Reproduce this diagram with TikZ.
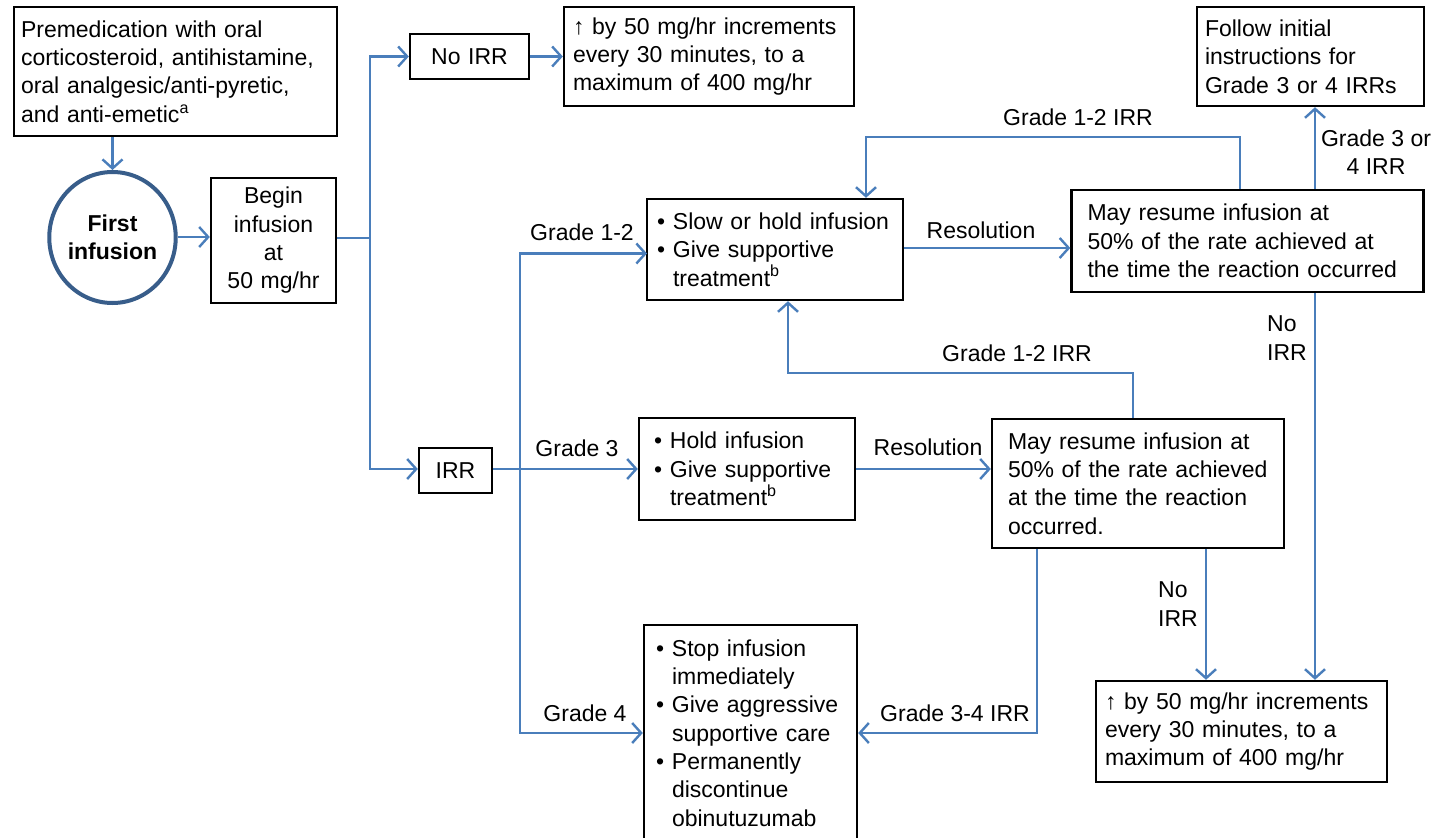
\documentclass[tikz,border=0pt]{standalone}
\usepackage{fontspec}
\setmainfont{Liberation Sans}
\usetikzlibrary{arrows.meta,shapes.geometric}
\definecolor{lineblue}{HTML}{4A7EBB}
\definecolor{circblue}{HTML}{385D8A}
\newcommand\fs{\fontsize{23}{28.3}\selectfont\hyphenpenalty=10000\exhyphenpenalty=10000}
\newcommand\bul{\makebox[16pt][l]{•}}
\newcommand\ind{\hspace*{16pt}}
\begin{document}
\begin{tikzpicture}[x=1pt,y=-1pt,
  box/.style={draw=black, line width=2.4pt, fill=white, inner ysep=2pt, align=left, font=\fs},
  cbox/.style={box, align=center},
  lab/.style={font=\fs, inner sep=0pt, align=center},
  conn/.style={draw=lineblue, line width=2.4pt},
  arr/.style={conn, -{Straight Barb[length=9pt,width=20pt]}}]
\useasboundingbox (0,0) rectangle (1438,838);
\fill[white] (0,0) rectangle (1438,838);

% nodes
\node[box, minimum width=323pt, minimum height=129pt, inner xsep=7pt, text width=309pt] (premed) at (175.5,71.5)
 {Premedication with oral\\corticosteroid, antihistamine,\\oral analgesic/anti-pyretic,\\and anti-emetic\textsuperscript{a}};
\node[ellipse, draw=circblue, line width=4pt, fill=white, minimum width=117pt, minimum height=131pt, font=\fs\bfseries, align=center, inner sep=0pt] (circ) at (112.5,237.5) {First\\infusion};
\node[cbox, minimum width=125pt, minimum height=125pt, inner xsep=7pt, text width=111pt] (begin) at (273.5,240.5) {Begin\\infusion\\at\\50 mg/hr};
\node[cbox, minimum width=119pt, minimum height=45pt, inner xsep=5pt, text width=109pt] (noirr) at (469.5,56.5) {No IRR};
\node[box, minimum width=290pt, minimum height=99pt, inner xsep=9pt, text width=272pt] (incr1) at (709,56.5)
 {↑ by 50 mg/hr increments\\every 30 minutes, to a\\maximum of 400 mg/hr};
\node[box, minimum width=227pt, minimum height=99pt, inner xsep=8pt, text width=211pt] (follow) at (1310.5,56.5)
 {Follow initial\\instructions for\\Grade 3 or 4 IRRs};
\node[box, minimum width=256pt, minimum height=101pt, inner xsep=10pt, text width=236pt] (slow) at (775,249.5)
 {\bul Slow or hold infusion\\\bul Give supportive\\\ind treatment\textsuperscript{b}};
\node[box, minimum width=352pt, minimum height=102pt, inner xsep=16pt, text width=320pt] (res1) at (1247.5,241)
 {May resume infusion at\\50\% of the rate achieved at\\the time the reaction occurred};
\node[cbox, minimum width=73pt, minimum height=45pt, inner xsep=4pt, text width=65pt] (irr) at (455.5,470.5) {IRR};
\node[box, minimum width=216pt, minimum height=102pt, inner xsep=15pt, text width=186pt] (hold) at (747,469)
 {\bul Hold infusion\\\bul Give supportive\\\ind treatment\textsuperscript{b}};
\node[box, minimum width=292pt, minimum height=129pt, inner xsep=16pt, text width=260pt] (res2) at (1138,483.5)
 {May resume infusion at\\50\% of the rate achieved\\at the time the reaction\\occurred.};
\node[box, minimum width=213pt, minimum height=216pt, inner xsep=12pt, text width=189pt] (stop) at (750.5,733)
 {\bul Stop infusion\\\ind immediately\\\bul Give aggressive\\\ind supportive care\\\bul Permanently\\\ind discontinue\\\ind obinutuzumab};
\node[box, minimum width=291pt, minimum height=101pt, inner xsep=9pt, text width=273pt] (incr2) at (1241.5,731.5)
 {↑ by 50 mg/hr increments\\every 30 minutes, to a\\maximum of 400 mg/hr};

% helper coordinates
\coordinate (j1) at (370,238);
\coordinate (j2) at (520,469);
\coordinate (slowin) at (647,253.5);
\coordinate (L1a) at (1240,137);
\coordinate (L1b) at (866,137);
\coordinate (x34) at (1315,0);
\coordinate (L2a) at (1133,373);
\coordinate (L2b) at (788,373);
\coordinate (c34) at (1037,733);
\coordinate (x12) at (1206,0);

% connectors
\draw[arr] (premed.south -| circ.north) -- (circ.north);
\draw[arr] (circ.east |- 0,237) -- (begin.west |- 0,237);
\draw[conn] (begin.east |- j1) -- (j1);
\draw[arr] (j1) |- (noirr.west);
\draw[arr] (j1) |- (irr.west |- j2);
\draw[arr] (noirr.east) -- (incr1.west |- noirr.east);
\draw[arr] (irr.east |- j2) -- (hold.west |- j2);
\draw[arr] (j2) |- (slowin);
\draw[arr] (j2) |- (stop.west);
\draw[arr] (slow.east |- 0,248) -- (res1.west |- 0,248);
\draw[arr] (hold.east) -- (hold.east -| res2.west);
\draw[arr] (res1.north -| L1a) -- (L1a) -- (L1b) -- (L1b |- slow.north);
\draw[arr] (res1.north -| x34) -- (follow.south -| x34);
\draw[arr] (res1.south -| x34) -- (incr2.north -| x34);
\draw[arr] (res2.north -| L2a) -- (L2a) -- (L2b) -- (L2b |- slow.south);
\draw[arr] (res2.south -| c34) -- (c34) -- (stop.east |- c34);
\draw[arr] (res2.south -| x12) -- (incr2.north -| x12);

% labels
\node[lab] (lg12) at (582,232) {Grade 1-2};
\node[lab] (lg3) at (577,448) {Grade 3};
\node[lab] (lg4) at (585,713) {Grade 4};
\node[lab] (lres1) at (981,230) {Resolution};
\node[lab] (lres2) at (928,447) {Resolution};
\node[lab] (lirr1) at (1078,117) {Grade 1-2 IRR};
\node[lab] (lirr2) at (1017,353) {Grade 1-2 IRR};
\node[lab] (lg34a) at (1376,152) {Grade 3 or\\4 IRR};
\node[lab] (lg34b) at (955,713) {Grade 3-4 IRR};
\node[lab, align=left, anchor=west] (lno1) at (1267,338) {No\\IRR};
\node[lab, align=left, anchor=west] (lno2) at (1158,604) {No\\IRR};
\end{tikzpicture}
\end{document}
